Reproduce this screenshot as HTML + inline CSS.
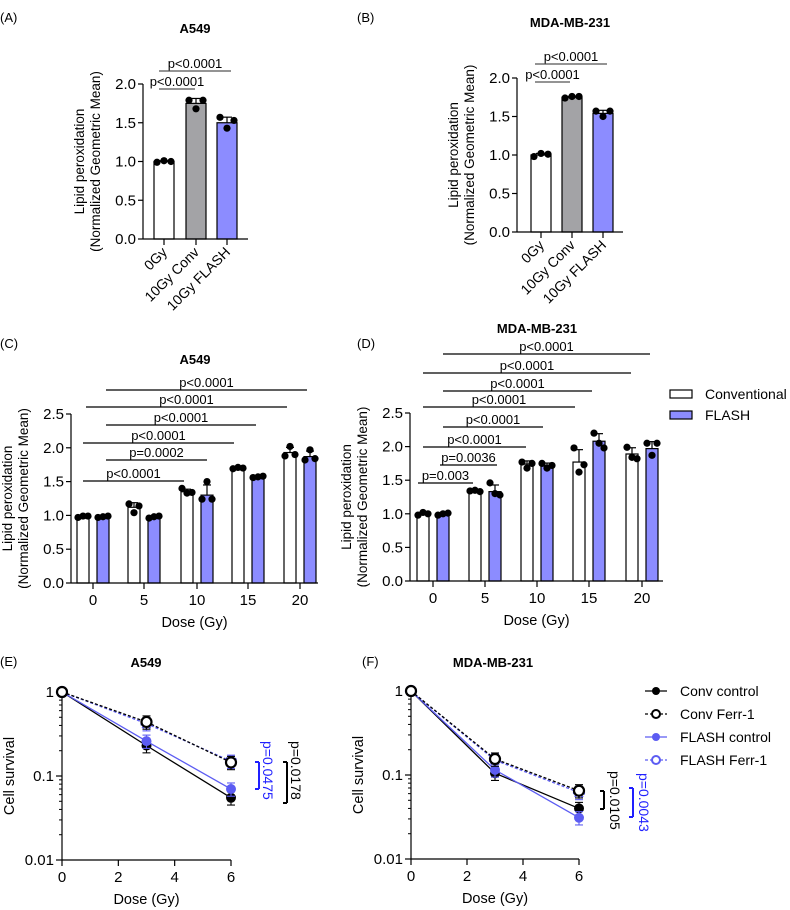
<!DOCTYPE html>
<html><head><meta charset="utf-8">
<style>
html,body{margin:0;padding:0;background:#fff;}
svg{display:block;font-family:"Liberation Sans",Arial,sans-serif;}
</style></head>
<body>
<svg id="fig" width="790" height="910" viewBox="0 0 790 910" xmlns="http://www.w3.org/2000/svg"></svg>
<script>
// ---------- DATA ----------
const abCategories = ["0Gy","10Gy Conv","10Gy FLASH"];
const aMeans = [1.0, 1.75, 1.50];
const aPts = [[0.99,1.01,1.00],[1.79,1.68,1.79],[1.57,1.43,1.53]];
const bMeans = [1.0, 1.75, 1.54];
const bPts = [[0.98,1.02,1.01],[1.74,1.76,1.76],[1.57,1.50,1.57]];
const abTicks = [0,0.5,1.0,1.5,2.0];
const abTickLabels = ["0.0","0.5","1.0","1.5","2.0"];

const doseGroups = ["0","5","10","15","20"];
const cConv = [0.98,1.12,1.35,1.70,1.93];
const cFlash = [0.98,0.98,1.30,1.57,1.87];
const cConvPts = [[0.97,0.99,0.99],[1.17,1.04,1.14],[1.40,1.33,1.34],[1.69,1.71,1.70],[1.88,2.02,1.90]];
const cFlashPts = [[0.97,0.98,0.99],[0.96,0.98,0.99],[1.24,1.50,1.24],[1.56,1.57,1.58],[1.82,1.97,1.84]];
const dConv = [0.99,1.34,1.74,1.77,1.89];
const dFlash = [0.99,1.33,1.72,2.08,1.97];
const dConvPts = [[0.98,1.02,1.00],[1.34,1.35,1.33],[1.77,1.68,1.75],[1.98,1.62,1.73],[1.99,1.84,1.82]];
const dFlashPts = [[0.98,1.00,1.01],[1.46,1.30,1.28],[1.75,1.68,1.72],[2.20,2.05,1.98],[2.05,1.87,2.05]];
const cdTicks = [0,0.5,1.0,1.5,2.0,2.5];
const cdTickLabels = ["0.0","0.5","1.0","1.5","2.0","2.5"];

const survDoses = [0,3,6];
const eConvCtrl = [1,0.23,0.055];
const eConvFerr = [1,0.44,0.145];
const eFlashCtrl = [1,0.26,0.07];
const eFlashFerr = [1,0.42,0.15];
const fConvCtrl = [1,0.105,0.040];
const fConvFerr = [1,0.155,0.065];
const fFlashCtrl = [1,0.115,0.031];
const fFlashFerr = [1,0.150,0.062];
const survXTicks = [0,2,4,6];
const survYTicks = [1,0.1,0.01];
const survYTickLabels = ["1","0.1","0.01"];

// ---------- HELPERS ----------
const NS="http://www.w3.org/2000/svg";
const svg=document.getElementById('fig');
const TICK=15, AXT=14.5;
function mk(tag,attrs,parent,txt){
  const e=document.createElementNS(NS,tag);
  for(const k in attrs) e.setAttribute(k,attrs[k]);
  if(txt!==undefined) e.textContent=txt;
  (parent||svg).appendChild(e);
  return e;
}
function grp(name){const g=mk('g',{});return g;}
function txt(g,x,y,s,opts){
  opts=opts||{};
  const t=mk('text',{x:x,y:y,'font-size':opts.size||13,'text-anchor':opts.anchor||'middle',fill:opts.fill||'#000','font-weight':opts.bold?'bold':'normal'},g,s);
  if(opts.rot!==undefined) t.setAttribute('transform','rotate('+opts.rot+' '+x+' '+y+')');
  return t;
}
function line(g,x1,y1,x2,y2,stroke,w,dash){
  const l=mk('line',{x1:x1,y1:y1,x2:x2,y2:y2,stroke:stroke||'#000','stroke-width':w||1.2},g);
  if(dash) l.setAttribute('stroke-dasharray',dash);
  return l;
}
function sd(a){const m=a.reduce((p,c)=>p+c,0)/a.length;return Math.sqrt(a.reduce((p,c)=>p+(c-m)*(c-m),0)/(a.length-1));}
function ylabel(g,x,y){
  txt(g,x,y,'Lipid peroxidation',{rot:-90,size:13.5});
  txt(g,x+16,y,'(Normalized Geometric Mean)',{rot:-90,size:13.5});
}

// ---------- PANEL LETTERS ----------
[['(A)',0,22],['(B)',357,22],['(C)',0,348],['(D)',357,348],['(E)',0,666],['(F)',362,666]].forEach(p=>{
  const t=txt(svg,p[1],p[2],p[0],{anchor:'start',size:13});
  
  
});

// ---------- PANELS A/B ----------
function panelAB(name,ax,y0,ppu,xEnd,barX,means,pts,title,tx,ty,brackets,ylx){
  const g=grp(name);
  const Y=v=>y0-v*ppu;
  const t=txt(g,tx,ty,title,{bold:true,size:13});
  
  
  ylabel(g,ylx,Y(1));
  const fills=['#ffffff','#a3a3a6','#8c8cff'];
  means.forEach((m,i)=>{
    const cx=barX[i];
    const r=mk('rect',{x:cx-10,y:Y(m),width:20,height:Y(0)-Y(m),fill:fills[i],stroke:'#000','stroke-width':1.2},g);
    
    
    const s=sd(pts[i]);
    line(g,cx,Y(m),cx,Y(m+s));line(g,cx-5,Y(m+s),cx+5,Y(m+s));
    pts[i].forEach((p,j)=>{
      const c=mk('circle',{cx:cx-7+j*7,cy:Y(p),r:3.6,fill:'#000'},g);
      
      
    });
    line(g,cx,Y(0),cx,Y(0)+6);
    txt(g,cx+4,Y(0)+14,abCategories[i],{anchor:'end',rot:-45,size:14});
  });
  line(g,ax,Y(0),xEnd,Y(0));
  line(g,ax,Y(0),ax,Y(2));
  abTicks.forEach((v,i)=>{line(g,ax-5,Y(v),ax,Y(v));txt(g,ax-7,Y(v)+5,abTickLabels[i],{anchor:'end',size:TICK});});
  brackets.forEach(b=>{line(g,b[0],b[2],b[1],b[2],'#555',1.2);txt(g,(b[0]+b[1])/2,b[2]-3,b[3],{size:13});});
}
panelAB('panel-a-chart',143,239,77.5,248,[164,196,227],aMeans,aPts,'A549',195,33,[[159,231,71,'p<0.0001'],[159,195,89,'p<0.0001']],84);
panelAB('panel-b-chart',517,232,77,623,[541,572,603],bMeans,bPts,'MDA-MB-231',570,27,[[535,607,64,'p<0.0001'],[535,570,82,'p<0.0001']],458);

// ---------- PANELS C/D ----------
function panelCD(name,ax,y0,ppu,xEnd,centers,conv,flash,convPts,flashPts,title,tx,ty,brackets,ylx){
  const g=grp(name);
  const Y=v=>y0-v*ppu;
  const t=txt(g,tx,ty,title,{bold:true,size:13});
  
  
  ylabel(g,ylx,Y(1.25));
  [[conv,convPts,'#ffffff',-10,'conv'],[flash,flashPts,'#8c8cff',10,'flash']].forEach(sr=>{
    sr[0].forEach((m,i)=>{
      const cx=centers[i]+sr[3];
      const r=mk('rect',{x:cx-6,y:Y(m),width:12,height:Y(0)-Y(m),fill:sr[2],stroke:'#000','stroke-width':1.2},g);
      
      
      const s=sd(sr[1][i]);
      line(g,cx,Y(m),cx,Y(m+s));line(g,cx-4,Y(m+s),cx+4,Y(m+s));
      sr[1][i].forEach((p,j)=>{
        const c=mk('circle',{cx:cx-5+j*5,cy:Y(p),r:3.6,fill:'#000'},g);
        
        
      });
    });
  });
  line(g,ax,Y(0),xEnd,Y(0));
  line(g,ax,Y(0),ax,Y(2.5));
  cdTicks.forEach((v,i)=>{line(g,ax-5,Y(v),ax,Y(v));txt(g,ax-7,Y(v)+5,cdTickLabels[i],{anchor:'end',size:TICK});});
  centers.forEach((c,i)=>{line(g,c,Y(0),c,Y(0)+6);txt(g,c,Y(0)+22,doseGroups[i],{size:TICK});});
  const xl=txt(g,(ax+xEnd)/2,Y(0)+44,'Dose (Gy)',{size:AXT});
  
  
  brackets.forEach(b=>{line(g,b[0],b[2],b[1],b[2],'#000',1.2);txt(g,(b[0]+b[1])/2,b[2]-3,b[3],{size:13});});
}
panelCD('panel-c-chart',71,583,67.6,318,[93,144,197,248,300],cConv,cFlash,cConvPts,cFlashPts,'A549',195,364,
 [[106,307,390,'p<0.0001'],[86,287,407,'p<0.0001'],[106,256,425,'p<0.0001'],[83,234,443,'p<0.0001'],[106,207,460,'p=0.0002'],[83,184,481,'p<0.0001']],12);
panelCD('panel-d-chart',410,581,67.2,663,[433,485,537,589,642],dConv,dFlash,dConvPts,dFlashPts,'MDA-MB-231',537,333,
 [[443,650,354,'p<0.0001'],[423,631,373,'p<0.0001'],[443,592,391,'p<0.0001'],[423,575,407,'p<0.0001'],[443,543,427,'p<0.0001'],[423,526,447,'p<0.0001'],[440,497,465,'p=0.0036'],[418,473,483,'p=0.003']],351);

// legend C/D
(function(){
  const g=grp('bar-legend');
  [['Conventional','#ffffff',394],['FLASH','#8c8cff',415]].forEach(l=>{
    const r=mk('rect',{x:670,y:l[2]-4,width:22,height:8,fill:l[1],stroke:'#000','stroke-width':1.2},g);
    
    
    txt(g,705,l[2]+5,l[0],{anchor:'start',size:14});
  });
})();

// ---------- PANELS E/F ----------
const blue='#5c5cf2';
function panelEF(name,ax,xR,yTop,decade,series,title,tx,ty,ann){
  const g=grp(name);
  const X=d=>ax+d*(xR-ax)/6;
  const Y=v=>yTop-Math.log10(v)*decade;
  const t=txt(g,tx,ty,title,{bold:true,size:13});
  
  
  line(g,ax,Y(0.01),xR,Y(0.01));
  line(g,ax,Y(0.01),ax,Y(1));
  survYTicks.forEach((v,i)=>{line(g,ax-6,Y(v),ax,Y(v));txt(g,ax-8,Y(v)+5,survYTickLabels[i],{anchor:'end',size:TICK});});
  for(let d=-2;d<0;d++){for(let k=2;k<10;k++){const yy=Y(k*Math.pow(10,d));line(g,ax-3,yy,ax,yy,'#000',1);}}
  survXTicks.forEach(d=>{line(g,X(d),Y(0.01),X(d),Y(0.01)+6);txt(g,X(d),Y(0.01)+22,String(d),{size:TICK});});
  const xl=txt(g,(ax+xR)/2,Y(0.01)+44,'Dose (Gy)',{size:AXT});
  
  
  const yl=txt(g,ax-48,Y(0.1),'Cell survival',{rot:-90,size:AXT});
  
  
  series.forEach(s=>{
    const pts=survDoses.map((d,i)=>X(d)+','+Y(s.v[i])).join(' ');
    const pl=mk('polyline',{points:pts,fill:'none',stroke:s.c,'stroke-width':1.3},g);
    if(s.dash) pl.setAttribute('stroke-dasharray','3,2');
    
    
    survDoses.forEach((d,i)=>{
      const e=s.v[i]*0.18;
      if(i>0){line(g,X(d),Y(s.v[i]-e),X(d),Y(s.v[i]+e),s.c,1.1);line(g,X(d)-4,Y(s.v[i]-e),X(d)+4,Y(s.v[i]-e),s.c,1.1);line(g,X(d)-4,Y(s.v[i]+e),X(d)+4,Y(s.v[i]+e),s.c,1.1);}
      const c=mk('circle',{cx:X(d),cy:Y(s.v[i]),r:5,fill:s.open?'#fff':s.c,stroke:s.c,'stroke-width':s.open?2.2:0},g);
      if(s.open && s.c===blue) c.setAttribute('stroke-dasharray','2,1.5');
      
      
    });
  });
  ann.forEach(a=>{
    line(g,a.x,a.y1,a.x,a.y2,a.c,2);
    line(g,a.x-4,a.y1,a.x,a.y1,a.c,2);line(g,a.x-4,a.y2,a.x,a.y2,a.c,2);
    txt(g,a.tx,a.ty,a.t,{anchor:'start',rot:90,size:14,fill:a.c});
  });
}
panelEF('panel-e-chart',62,231,692,84,[
  {n:'conv-control',v:eConvCtrl,c:'#000'},
  {n:'flash-control',v:eFlashCtrl,c:blue},
  {n:'flash-ferr-1',v:eFlashFerr,c:blue,dash:1,open:1},
  {n:'conv-ferr-1',v:eConvFerr,c:'#000',dash:1,open:1}],
  'A549',146,667,
  [{x:259,y1:762,y2:789,c:'#2020ff',tx:263,ty:741,t:'p=0.0475'},{x:287,y1:762,y2:803,c:'#000',tx:291,ty:741,t:'p=0.0178'}]);
panelEF('panel-f-chart',411,579,691,84,[
  {n:'conv-control',v:fConvCtrl,c:'#000'},
  {n:'flash-control',v:fFlashCtrl,c:blue},
  {n:'flash-ferr-1',v:fFlashFerr,c:blue,dash:1,open:1},
  {n:'conv-ferr-1',v:fConvFerr,c:'#000',dash:1,open:1}],
  'MDA-MB-231',493,667,
  [{x:604,y1:791,y2:809,c:'#000',tx:610,ty:771,t:'p=0.0105'},{x:633,y1:788,y2:817,c:'#2020ff',tx:639,ty:773,t:'p=0.0043'}]);

// legend E/F
(function(){
  const g=grp('survival-legend');
  [['Conv control','#000',0,0,691],['Conv Ferr-1','#000',1,1,714],['FLASH control',blue,0,0,737],['FLASH Ferr-1',blue,1,1,760]].forEach(l=>{
    const ln=line(g,645,l[4],667,l[4],l[1],1.3,l[2]?'3,2':null);
    
    
    mk('circle',{cx:656,cy:l[4],r:4,fill:l[3]?'#fff':l[1],stroke:l[1],'stroke-width':l[3]?2:0},g);
    txt(g,680,l[4]+5,l[0],{anchor:'start',size:14});
  });
})();
</script>
</body></html>
